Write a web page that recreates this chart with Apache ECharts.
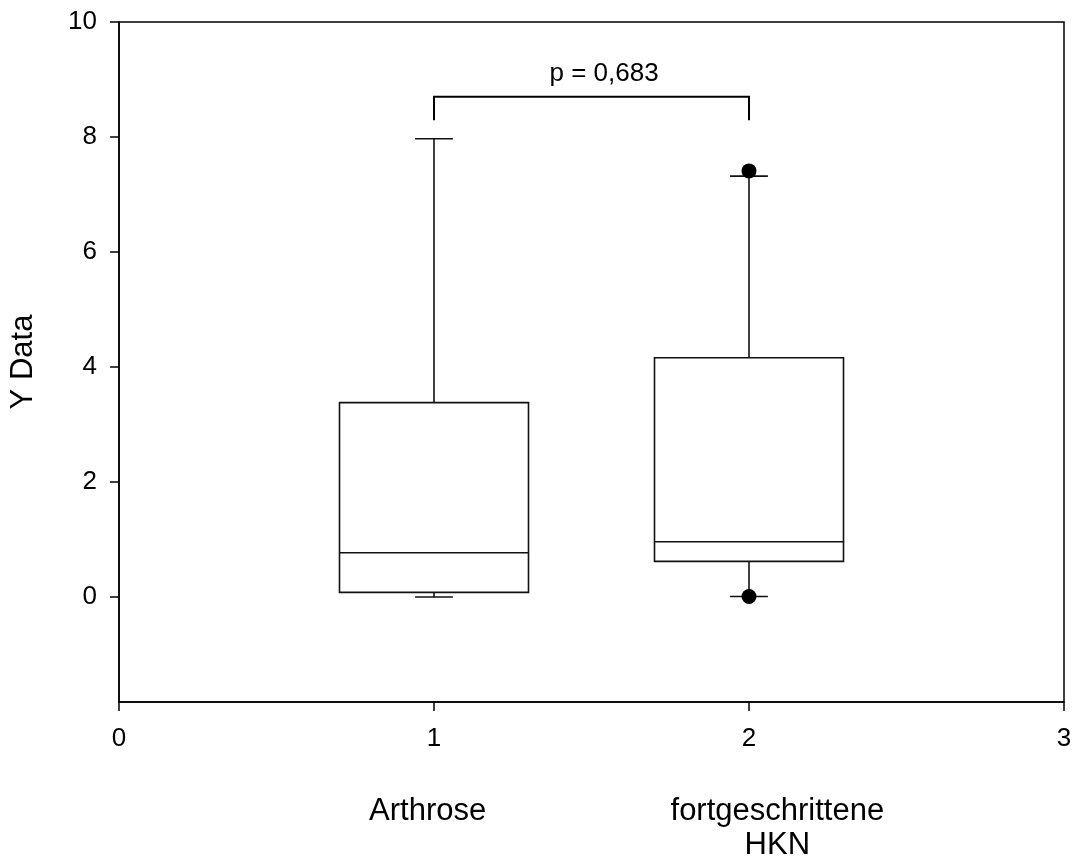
<!DOCTYPE html>
<html>
<head>
<meta charset="utf-8">
<script src="https://cdn.jsdelivr.net/npm/echarts@6/dist/echarts.min.js"></script>
<style>html,body{margin:0;padding:0;background:#fff}#c{width:1080px;height:856px}</style>
</head>
<body>
<div id="c"></div>
<script>
// Data
const groupX = [1, 2];
const groupNames = ['Arthrose', 'fortgeschrittene\nHKN'];
const groupLabelX = [0.98, 2.09];
const whiskerLow = [0.0, 0.01];
const q1 = [0.08, 0.62];
const median = [0.77, 0.96];
const q3 = [3.38, 4.16];
const whiskerHigh = [7.97, 7.32];
const outliers = [[2, 7.41], [2, 0.01]];
const yTicks = [0, 2, 4, 6, 8, 10];
const bracketFrom = 1, bracketTo = 2, bracketTop = 8.70, bracketFoot = 8.29;
const pText = 'p = 0,683';
const pTextPos = [1.54, 9.09];

const FONT = 'Liberation Sans, Arial, sans-serif';
const boxData = groupX.map((x, i) => [x, whiskerLow[i], q1[i], median[i], q3[i], whiskerHigh[i]]);

const chart = echarts.init(document.getElementById('c'), null, {renderer: 'canvas'});
const boxHalf = 0.3, capHalf = 0.06;
const lineStyle = {stroke: '#111', lineWidth: 1.6, fill: null};

chart.setOption({
  animation: false,
  backgroundColor: '#fff',
  grid: {left: 118.5, right: 16, top: 22, bottom: 154, show: true, borderColor: '#000', borderWidth: 1.5, backgroundColor: 'transparent'},
  xAxis: {
    type: 'value', min: 0, max: 3, interval: 1,
    axisLine: {show: true, onZero: false, lineStyle: {color: '#000', width: 1.5}},
    axisTick: {show: true, inside: false, length: 9, lineStyle: {color: '#000', width: 1.5}},
    axisLabel: {color: '#000', fontSize: 26, fontFamily: FONT, margin: 24},
    splitLine: {show: false}
  },
  yAxis: {
    type: 'value', min: -1.826, max: 10,
    name: 'Y Data', nameLocation: 'middle', nameGap: 80,
    nameTextStyle: {color: '#000', fontSize: 31, fontFamily: FONT},
    axisLine: {show: true, onZero: false, lineStyle: {color: '#000', width: 1.5}},
    axisTick: {show: true, inside: false, length: 9, customValues: yTicks, lineStyle: {color: '#000', width: 1.5}},
    axisLabel: {color: '#000', fontSize: 26, fontFamily: FONT, margin: 22, customValues: yTicks},
    splitLine: {show: false}
  },
  series: [
    {
      type: 'custom',
      data: boxData,
      renderItem: function (params, api) {
        const x = api.value(0);
        const lo = api.coord([x, api.value(1)]);
        const a = api.coord([x - boxHalf, api.value(2)]);
        const b = api.coord([x + boxHalf, api.value(4)]);
        const m1 = api.coord([x - boxHalf, api.value(3)]);
        const m2 = api.coord([x + boxHalf, api.value(3)]);
        const hi = api.coord([x, api.value(5)]);
        const capL = api.coord([x - capHalf, 0])[0];
        const capR = api.coord([x + capHalf, 0])[0];
        return {
          type: 'group',
          children: [
            {type: 'line', shape: {x1: hi[0], y1: hi[1], x2: hi[0], y2: b[1]}, style: lineStyle},
            {type: 'line', shape: {x1: lo[0], y1: lo[1], x2: lo[0], y2: a[1]}, style: lineStyle},
            {type: 'line', shape: {x1: capL, y1: hi[1], x2: capR, y2: hi[1]}, style: lineStyle},
            {type: 'line', shape: {x1: capL, y1: lo[1], x2: capR, y2: lo[1]}, style: lineStyle},
            {type: 'rect', shape: {x: a[0], y: b[1], width: b[0] - a[0], height: a[1] - b[1]}, style: {stroke: '#111', lineWidth: 1.6, fill: '#fff'}},
            {type: 'line', shape: {x1: m1[0], y1: m1[1], x2: m2[0], y2: m2[1]}, style: lineStyle}
          ]
        };
      },
      z: 2
    },
    {
      type: 'scatter',
      data: outliers,
      symbol: 'circle', symbolSize: 15,
      itemStyle: {color: '#000', opacity: 1},
      z: 3
    },
    {
      type: 'custom',
      data: [[bracketFrom, bracketTo, bracketTop, bracketFoot]],
      renderItem: function (params, api) {
        const p1 = api.coord([api.value(0), api.value(3)]);
        const p2 = api.coord([api.value(0), api.value(2)]);
        const p3 = api.coord([api.value(1), api.value(2)]);
        const p4 = api.coord([api.value(1), api.value(3)]);
        const t = api.coord(pTextPos);
        return {
          type: 'group',
          children: [
            {type: 'polyline', shape: {points: [p1, p2, p3, p4]}, style: {stroke: '#000', lineWidth: 2, fill: null}},
            {type: 'text', x: t[0], y: t[1], style: {text: pText, fontSize: 26, fontFamily: FONT, fill: '#000', align: 'center', verticalAlign: 'middle'}}
          ]
        };
      },
      z: 4
    },
    {
      type: 'custom',
      clip: false,
      data: groupLabelX.map((x, i) => [x, i]),
      renderItem: function (params, api) {
        const x = api.coord([api.value(0), -1.826]);
        return {
          type: 'text', x: x[0], y: x[1] + 92,
          style: {text: groupNames[api.value(1)], fontSize: 31, lineHeight: 34, fontFamily: FONT, fill: '#000', align: 'center', verticalAlign: 'top'}
        };
      }
    }
  ]
});
</script>
</body>
</html>
